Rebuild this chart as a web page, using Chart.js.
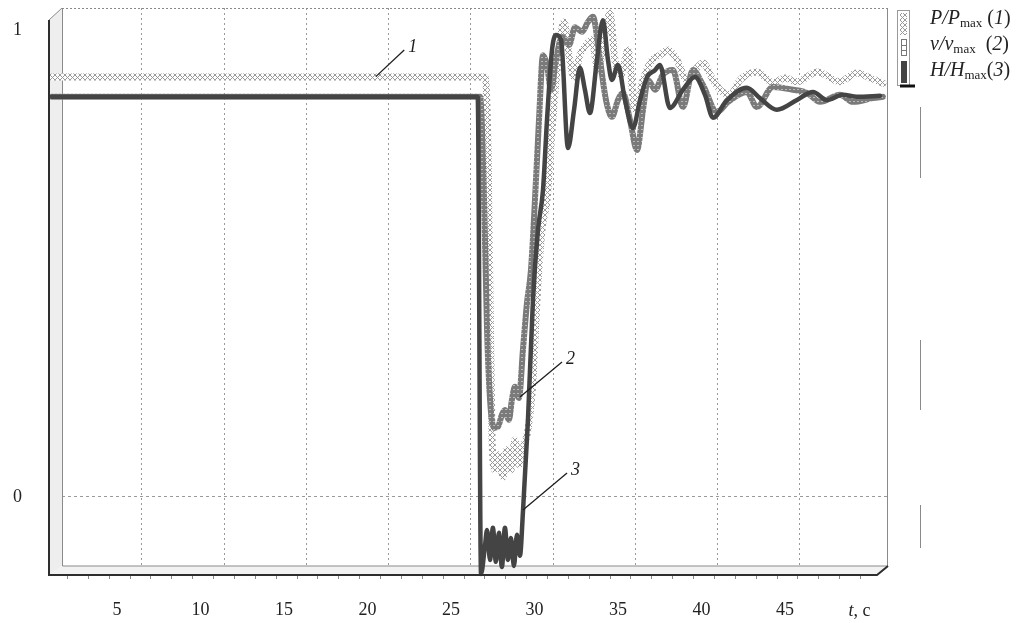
<!DOCTYPE html>
<html>
<head>
<meta charset="utf-8">
<script src="https://cdn.jsdelivr.net/npm/chart.js@4.4.1/dist/chart.umd.min.js"></script>
<style>
  html, body { margin: 0; padding: 0; background: #fff; }
  #wrap { width: 1021px; height: 623px; }
</style>
</head>
<body>
<div id="wrap"><canvas id="myChart" width="1021" height="623"></canvas></div>
<script>
// datos (t en s, valores normalizados)
const timeP = [1.1, 27.04, 27.22, 27.34, 27.46, 27.63, 27.87, 28.11, 28.35, 28.59, 28.83, 29.07, 29.37, 29.61, 29.91,
  30.15, 30.45, 30.75, 31.05, 31.41, 31.77, 32.07, 32.37, 32.72, 33.08, 33.44, 33.8, 34.16, 34.52, 34.82,
  35.18, 35.6, 36.02, 36.5, 37.04, 37.51, 37.99, 38.53, 39.13, 39.61, 40.09, 40.63, 41.11, 41.71, 42.31,
  43.32, 44.28, 45.0, 45.72, 46.92, 48.29, 49.31, 50.09, 50.87];
const powerP = [0.899, 0.899, 0.743, 0.422, 0.122, 0.058, 0.09, 0.043, 0.101, 0.058, 0.122, 0.069, 0.111, 0.143, 0.25,
  0.422, 0.572, 0.636, 0.786, 0.936, 1.017, 0.946, 0.899, 0.946, 0.968, 0.979, 0.914, 0.979, 1.036, 0.936,
  0.904, 0.957, 0.829, 0.893, 0.936, 0.946, 0.957, 0.936, 0.893, 0.914, 0.929, 0.897, 0.872, 0.861, 0.893,
  0.91, 0.887, 0.897, 0.889, 0.91, 0.889, 0.908, 0.897, 0.886];

const timeV = [1.1, 26.74, 26.98, 27.16, 27.34, 27.57, 27.81, 28.05, 28.23, 28.47, 28.65, 28.83, 29.07, 29.31, 29.55,
  29.79, 30.03, 30.27, 30.51, 30.75, 30.99, 31.29, 31.65, 32.07, 32.43, 32.84, 33.2, 33.5, 33.92, 34.28,
  34.64, 35.0, 35.3, 35.72, 36.14, 36.5, 36.8, 37.22, 37.69, 38.29, 38.89, 39.49, 40.09, 40.93, 41.59,
  42.72, 43.32, 44.28, 45.48, 46.32, 47.1, 48.29, 49.07, 50.27, 50.87];
const speedV = [0.857, 0.857, 0.636, 0.358, 0.208, 0.148, 0.15, 0.176, 0.186, 0.165, 0.208, 0.236, 0.212, 0.315, 0.415,
  0.486, 0.636, 0.807, 0.946, 0.925, 0.872, 0.936, 0.985, 0.968, 1.006, 0.996, 1.017, 1.028, 0.936, 0.85,
  0.814, 0.85, 0.865, 0.807, 0.743, 0.829, 0.893, 0.872, 0.904, 0.914, 0.835, 0.914, 0.882, 0.824, 0.846,
  0.867, 0.835, 0.878, 0.872, 0.865, 0.846, 0.861, 0.846, 0.854, 0.857];

const timeH = [1.1, 26.6, 26.8, 27.04, 27.16, 27.34, 27.51, 27.69, 27.87, 28.05, 28.23, 28.41, 28.59, 28.77, 28.95,
  29.13, 29.31, 29.61, 29.91, 30.21, 30.51, 30.75, 31.05, 31.29, 31.59, 32.01, 32.37, 32.72, 33.02, 33.32,
  33.74, 34.1, 34.4, 34.64, 35.0, 35.42, 35.9, 36.32, 36.74, 37.22, 37.51, 38.11, 38.89, 39.61, 40.21,
  40.69, 41.53, 42.72, 43.5, 44.52, 45.72, 46.68, 47.51, 48.47, 49.31, 50.69];
const headH = [0.857, 0.857, -0.165, -0.103, -0.071, -0.135, -0.066, -0.139, -0.077, -0.15, -0.066, -0.135, -0.088, -0.148, -0.081,
  -0.126, -0.032, 0.165, 0.422, 0.572, 0.657, 0.807, 0.957, 0.989, 0.979, 0.747, 0.829, 0.919, 0.872, 0.822,
  0.936, 1.021, 0.936, 0.893, 0.925, 0.85, 0.79, 0.85, 0.899, 0.914, 0.925, 0.833, 0.872, 0.899, 0.861,
  0.812, 0.85, 0.876, 0.854, 0.829, 0.85, 0.867, 0.85, 0.861, 0.857, 0.859];

const xTicks = [5, 10, 15, 20, 25, 30, 35, 40, 45];
const yTicks = [0, 1];
const xTitle = ['t', ', c'];

// patrones para las cintas (estilo grafico 3D)
function makePattern(size, draw) {
  const c = document.createElement('canvas');
  c.width = size; c.height = size;
  draw(c.getContext('2d'), size);
  return c.getContext('2d').createPattern(c, 'repeat');
}
const patP = makePattern(5, (g, s) => {
  g.fillStyle = '#fdfdfd'; g.fillRect(0, 0, s, s);
  g.strokeStyle = '#9a9a9a'; g.lineWidth = 1;
  g.beginPath(); g.moveTo(0, 0); g.lineTo(s, s); g.moveTo(s, 0); g.lineTo(0, s); g.stroke();
});
const patV = makePattern(4, (g, s) => {
  g.fillStyle = '#7a7a7a'; g.fillRect(0, 0, s, s);
  g.fillStyle = '#b8b8b8'; g.fillRect(1, 1, 2, 1);
});
const colH = '#444444';

const serif = '"Liberation Serif", "Times New Roman", serif';
const pts = (t, v) => t.map((x, i) => ({ x: x, y: v[i] }));

// marco 3D, leyenda y rotulos
const frame3d = {
  id: 'frame3d',
  beforeDatasetsDraw(chart) {
    const { ctx, chartArea: a } = chart;
    ctx.save();
    ctx.fillStyle = '#eeeeee';
    ctx.beginPath();
    ctx.moveTo(a.left - 13, a.top + 12); ctx.lineTo(a.left, a.top);
    ctx.lineTo(a.left, a.bottom); ctx.lineTo(a.left - 13, a.bottom + 9); ctx.closePath(); ctx.fill();
    ctx.fillStyle = '#f2f2f2';
    ctx.beginPath();
    ctx.moveTo(a.left, a.bottom); ctx.lineTo(a.right, a.bottom);
    ctx.lineTo(a.right - 11, a.bottom + 9); ctx.lineTo(a.left - 13, a.bottom + 9); ctx.closePath(); ctx.fill();
    ctx.strokeStyle = '#8a8a8a'; ctx.lineWidth = 1;
    ctx.beginPath();
    ctx.moveTo(a.left + 0.5, a.top); ctx.lineTo(a.left + 0.5, a.bottom);
    ctx.lineTo(a.right - 0.5, a.bottom); ctx.lineTo(a.right - 0.5, a.top);
    ctx.moveTo(a.left - 13, a.top + 12); ctx.lineTo(a.left, a.top);
    ctx.stroke();
    ctx.setLineDash([2, 2]);
    ctx.beginPath(); ctx.moveTo(a.left, a.top + 0.5); ctx.lineTo(a.right, a.top + 0.5); ctx.stroke();
    ctx.restore();
  },
  afterDatasetsDraw(chart) {
    const { ctx, chartArea: a, scales } = chart;
    const sx = scales.x, sy = scales.y;
    ctx.save();
    // ejes frontales
    ctx.strokeStyle = '#2e2e2e'; ctx.lineWidth = 2;
    ctx.beginPath();
    ctx.moveTo(a.left - 13, a.top + 12); ctx.lineTo(a.left - 13, a.bottom + 9);
    ctx.lineTo(a.right - 11, a.bottom + 9); ctx.lineTo(a.right, a.bottom);
    ctx.stroke();
    // marcas menores
    ctx.strokeStyle = '#888'; ctx.lineWidth = 1;
    ctx.beginPath();
    for (let t = 2; t <= 50; t += 1.25) {
      const px = Math.round(sx.getPixelForValue(t)) + 0.5;
      ctx.moveTo(px, a.bottom + 10); ctx.lineTo(px, a.bottom + 13);
    }
    ctx.stroke();

    // rotulos de curvas
    const notes = [
      { txt: '1', from: [20.5, 0.90], to: [22.2, 0.957] },
      { txt: '2', from: [29.13, 0.214], to: [31.65, 0.289] },
      { txt: '3', from: [29.31, -0.028], to: [31.95, 0.051] }
    ];
    ctx.strokeStyle = '#1e1e1e'; ctx.lineWidth = 1.3;
    ctx.fillStyle = '#1e1e1e';
    ctx.font = 'italic 18px ' + serif;
    ctx.textBaseline = 'alphabetic';
    notes.forEach(n => {
      const x1 = sx.getPixelForValue(n.from[0]), y1 = sy.getPixelForValue(n.from[1]);
      const x2 = sx.getPixelForValue(n.to[0]), y2 = sy.getPixelForValue(n.to[1]);
      ctx.beginPath(); ctx.moveTo(x1, y1); ctx.lineTo(x2, y2); ctx.stroke();
      ctx.fillText(n.txt, x2 + 4, y2 + 2);
    });

    // titulo del eje x
    const rich = (x, y, parts) => {
      parts.forEach(p => {
        ctx.font = p[1];
        ctx.fillText(p[0], x, y + (p[2] || 0));
        x += ctx.measureText(p[0]).width;
      });
    };
    const it = 'italic 18px ' + serif, rm = '18px ' + serif;
    const itL = 'italic 20px ' + serif, rmL = '20px ' + serif, sub = '13px ' + serif;
    ctx.fillStyle = '#222';
    rich(sx.getPixelForValue(48.8), 616, [[xTitle[0], it], [xTitle[1], rm]]);

    // leyenda
    const lx = a.right + 9, ly = a.top + 2;
    ctx.fillStyle = patP; ctx.fillRect(lx + 3, ly + 3, 7, 22);
    ctx.fillStyle = '#fff'; ctx.fillRect(lx + 4, ly + 29, 6, 17);
    ctx.strokeStyle = '#777'; ctx.lineWidth = 1;
    ctx.strokeRect(lx + 4.5, ly + 29.5, 5, 16);
    ctx.beginPath();
    ctx.moveTo(lx + 4.5, ly + 35.5); ctx.lineTo(lx + 9.5, ly + 35.5);
    ctx.moveTo(lx + 4.5, ly + 40.5); ctx.lineTo(lx + 9.5, ly + 40.5);
    ctx.stroke();
    ctx.fillStyle = colH; ctx.fillRect(lx + 4, ly + 51, 6, 22);
    ctx.strokeStyle = '#9a9a9a'; ctx.lineWidth = 1;
    ctx.strokeRect(lx + 0.5, ly + 0.5, 12, 75);
    ctx.strokeStyle = '#111'; ctx.lineWidth = 3;
    ctx.beginPath(); ctx.moveTo(lx + 3, ly + 76); ctx.lineTo(lx + 18, ly + 76); ctx.stroke();
    ctx.fillStyle = '#222';
    rich(lx + 33, ly + 14, [['P/P', itL], ['max', sub, 3], [' (', rmL], ['1', itL], [')', rmL]]);
    rich(lx + 33, ly + 40, [['v/v', itL], ['max', sub, 3], ['  (', rmL], ['2', itL], [')', rmL]]);
    rich(lx + 33, ly + 66, [['H/H', itL], ['max', sub, 3], ['(', rmL], ['3', itL], [')', rmL]]);

    // trazos sueltos a la derecha
    ctx.strokeStyle = '#8a8a8a'; ctx.lineWidth = 1;
    ctx.beginPath();
    [[107, 178], [340, 410], [505, 548]].forEach(s => {
      ctx.moveTo(a.right + 32.5, s[0]); ctx.lineTo(a.right + 32.5, s[1]);
    });
    ctx.stroke();
    ctx.restore();
  }
};

const data = {
  datasets: [
    { label: 'H/Hmax (3)', data: pts(timeH, headH), borderColor: colH, borderWidth: 4.5, order: 0 },
    { label: 'v/vmax (2)', data: pts(timeV, speedV), borderColor: patV, borderWidth: 6, order: 1 },
    { label: 'P/Pmax (1)', data: pts(timeP, powerP), borderColor: patP, borderWidth: 7, order: 2 }
  ]
};
data.datasets.forEach(d => {
  d.pointRadius = 0;
  d.clip = false;
  d.cubicInterpolationMode = 'monotone';
  d.borderJoinStyle = 'round';
  d.borderCapStyle = 'round';
});

const config = {
  type: 'line',
  data,
  options: {
    responsive: false,
    animation: false,
    events: [],
    layout: { padding: { top: 8, right: 133, left: 0, bottom: 0 } },
    plugins: { legend: { display: false }, tooltip: { enabled: false } },
    scales: {
      x: {
        type: 'linear', position: 'bottom', min: 1.707, max: 51.17,
        afterBuildTicks: s => { s.ticks = xTicks.map(v => ({ value: v })); },
        afterFit: s => { s.height = 57; s.paddingLeft = 0; s.paddingRight = 0; },
        grid: { display: false, drawTicks: false },
        border: { display: false },
        ticks: { padding: 33, color: '#222', font: { family: serif, size: 18 } }
      },
      xg: {
        type: 'linear', position: 'bottom', min: 0.137, max: 50.35,
        afterBuildTicks: s => { s.ticks = xTicks.map(v => ({ value: v })); },
        afterFit: s => { s.height = 0; s.paddingLeft = 0; s.paddingRight = 0; },
        grid: { color: '#9a9a9a', lineWidth: 1, drawTicks: false },
        border: { display: false, dash: [2, 3] },
        ticks: { display: false }
      },
      y: {
        type: 'linear', min: -0.148, max: 1.047,
        afterBuildTicks: s => { s.ticks = yTicks.map(v => ({ value: v })); },
        afterFit: s => { s.width = 62; s.paddingTop = 0; s.paddingBottom = 0; },
        grid: {
          drawTicks: false,
          color: c => (c.tick && c.tick.value === 0 ? '#9a9a9a' : 'rgba(0,0,0,0)')
        },
        border: { display: false, dash: [3, 3] },
        ticks: { padding: 40, color: '#222', font: { family: serif, size: 18 } }
      }
    }
  },
  plugins: [frame3d]
};

const myChart = new Chart(document.getElementById('myChart'), config);
</script>
</body>
</html>
